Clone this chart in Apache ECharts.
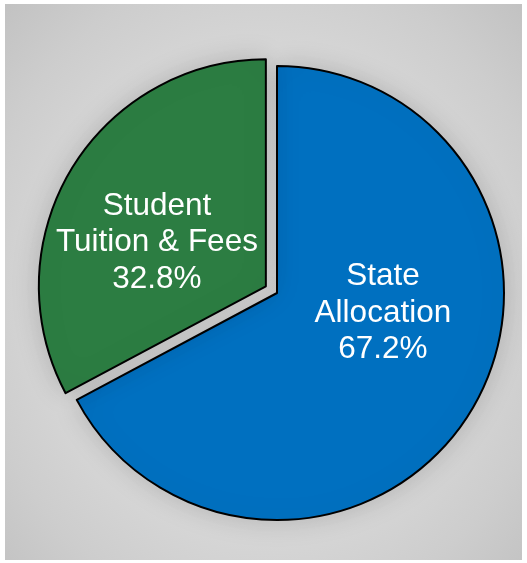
<!DOCTYPE html>
<html>
<head>
<meta charset="utf-8">
<script src="https://cdn.jsdelivr.net/npm/echarts@6/dist/echarts.min.js"></script>
<style>
  html, body { margin: 0; padding: 0; background: #ffffff; }
  #panel {
    position: absolute; left: 5px; top: 4px; width: 517px; height: 556px;
    background: radial-gradient(ellipse at 50% 52%, #e3e3e3 0%, #dcdcdc 45%, #cdcdcd 80%, #c2c2c2 100%);
  }
  #chart { position: absolute; left: 0; top: 0; width: 527px; height: 563px; }
</style>
</head>
<body>
<div id="panel"></div>
<div id="chart"></div>
<script>
const categories = ['State\nAllocation', 'Student\nTuition & Fees'];
const values = [67.2, 32.8];
const colors = ['#0070C0', '#2C7D42'];
const explodedIndex = 1;
const labelShift = [[6, -40], [-9, 16]];

const chart = echarts.init(document.getElementById('chart'), null, { renderer: 'canvas' });

const data = categories.map((name, i) => ({
  name: name,
  value: values[i],
  selected: i === explodedIndex,
  itemStyle: { color: colors[i] }
}));

chart.setOption({
  animation: false,
  backgroundColor: 'transparent',
  series: [{
    type: 'pie',
    center: [277, 293],
    radius: [0, 227],
    startAngle: 90,
    clockwise: true,
    selectedMode: 'single',
    selectedOffset: 13,
    avoidLabelOverlap: false,
    data: data,
    itemStyle: {
      borderColor: '#000000',
      borderWidth: 2,
      shadowBlur: 28,
      shadowColor: 'rgba(0,0,0,0.18)'
    },
    label: {
      show: true,
      position: 'inside',
      color: '#ffffff',
      fontFamily: 'Liberation Sans, Arial, sans-serif',
      fontSize: 31.5,
      lineHeight: 36.5,
      align: 'center',
      formatter: p => p.name + '\n' + p.value.toFixed(1) + '%'
    },
    labelLayout: p => ({ dx: labelShift[p.dataIndex][0], dy: labelShift[p.dataIndex][1] }),
    labelLine: { show: false },
    emphasis: { disabled: true },
    select: { itemStyle: { borderColor: '#000000', borderWidth: 2 } }
  }]
});
</script>
</body>
</html>
